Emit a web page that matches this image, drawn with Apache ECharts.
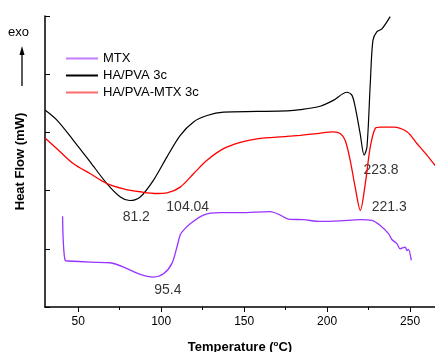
<!DOCTYPE html>
<html><head><meta charset="utf-8">
<script src="https://cdn.jsdelivr.net/npm/echarts@6/dist/echarts.min.js"></script>
<style>html,body{margin:0;padding:0;background:#fff}#c{width:435px;height:352px}</style>
</head><body><div id="c"></div>
<script>
const FONT = '"Liberation Sans", Arial, sans-serif';
const seriesNames = ['MTX', 'HA/PVA 3c', 'HA/PVA-MTX 3c'];
const xTickValues = [50, 100, 150, 200, 250];
const xMinorTickValues = [75, 125, 175, 225];

const mtxT = [40.6, 41.0, 42.2, 44.2, 57.3, 69.3, 79.4, 87.4, 95.4, 101.4, 106.5, 109.5, 111.5, 113.5, 117.5, 125.5, 135.6, 147.6, 165.7, 171.7, 176.7, 185.8, 195.8, 207.8, 220.0, 227.0, 232.0, 237.0, 239.0, 242.0, 244.0, 247.0, 248.1, 249.0, 250.7];
const mtxV = [1.56, 1.14, 0.80, 0.79, 0.77, 0.76, 0.66, 0.56, 0.515, 0.57, 0.75, 1.03, 1.24, 1.32, 1.43, 1.58, 1.62, 1.62, 1.64, 1.58, 1.51, 1.50, 1.47, 1.48, 1.50, 1.49, 1.40, 1.26, 1.16, 1.09, 1.00, 1.03, 0.97, 0.99, 0.80];

const hapvaT = [30.2, 37.2, 47.2, 57.3, 67.3, 75.4, 81.0, 87.4, 95.4, 103.5, 111.5, 119.5, 127.6, 137.6, 157.7, 175.8, 183.8, 195.8, 203.7, 211.9, 214.9, 216.9, 219.9, 222.3, 224.0, 226.0, 227.6, 230.0, 233.0, 238.0];
const hapvaV = [3.38, 3.21, 2.86, 2.49, 2.12, 1.89, 1.83, 1.89, 2.18, 2.58, 2.95, 3.18, 3.29, 3.35, 3.36, 3.37, 3.39, 3.45, 3.55, 3.69, 3.64, 3.44, 2.98, 2.61, 2.75, 3.84, 4.58, 4.73, 4.78, 4.99];

const hapvaMtxT = [30.2, 37.2, 47.2, 57.3, 67.3, 77.3, 87.4, 97.4, 103.5, 111.5, 119.5, 127.6, 137.6, 147.7, 157.7, 175.8, 183.8, 193.9, 203.9, 207.9, 210.9, 213.9, 216.9, 220.0, 223.0, 226.0, 229.0, 232.0, 240.0, 248.1, 254.1, 260.1, 265.1];
const hapvaMtxV = [2.90, 2.72, 2.46, 2.29, 2.12, 2.03, 1.98, 1.95, 1.96, 2.06, 2.29, 2.52, 2.72, 2.83, 2.89, 2.93, 2.95, 2.98, 3.01, 2.98, 2.86, 2.52, 2.06, 1.66, 2.12, 2.75, 3.07, 3.09, 3.09, 3.01, 2.81, 2.61, 2.43];

const annotTexts = ['81.2', '104.04', '95.4', '223.8', '221.3'];
const annotT = [85.0, 116.0, 104.0, 232.5, 237.4];
const annotV = [1.55, 1.72, 0.287, 2.35, 1.71];

const zip = (a, b) => a.map((t, i) => [t, b[i]]);
const lineColors = ['#9933ff', '#000000', '#ff0000'];
const legendColors = ['#c27dff', '#000000', '#ff6a6a'];

const chart = echarts.init(document.getElementById('c'), null, {renderer: 'canvas'});
chart.setOption({
  animation: false,
  backgroundColor: '#fff',
  textStyle: {fontFamily: FONT},
  grid: {left: 45, top: 16, right: 0, bottom: 45, containLabel: false, outerBoundsMode: 'none'},
  legend: {
    orient: 'vertical', left: 66, top: 51, padding: 0, itemWidth: 32, itemHeight: 2, itemGap: 2,
    icon: 'rect',
    textStyle: {fontSize: 13, color: '#000', fontFamily: FONT, lineHeight: 15},
    data: seriesNames.map((n, i) => ({name: n, itemStyle: {color: legendColors[i]}}))
  },
  xAxis: [{
    type: 'value', min: 30, max: 265, position: 'bottom',
    name: 'Temperature ({s|o}C)', nameLocation: 'middle', nameGap: 33,
    nameTextStyle: {fontSize: 13, fontWeight: 'bold', color: '#000', fontFamily: FONT,
      rich: {s: {fontSize: 8, fontWeight: 'bold', color: '#000', verticalAlign: 'top', padding: [0, 0, 6, 0], fontFamily: FONT}}},
    axisLine: {show: true, onZero: false, lineStyle: {color: '#000', width: 1.5}},
    axisTick: {show: true, inside: false, length: 5, customValues: xTickValues, lineStyle: {color: '#000', width: 1}},
    axisLabel: {customValues: xTickValues, fontSize: 12, color: '#000', margin: 9, fontFamily: FONT},
    splitLine: {show: false}
  }, {
    type: 'value', min: 30, max: 265, position: 'bottom',
    axisLine: {show: false},
    axisTick: {show: true, inside: false, length: 3, customValues: xMinorTickValues, lineStyle: {color: '#000', width: 1}},
    axisLabel: {show: false},
    splitLine: {show: false}
  }],
  yAxis: {
    type: 'value', min: 0, max: 5, interval: 1,
    name: 'Heat Flow (mW)', nameLocation: 'middle', nameGap: 18,
    nameTextStyle: {fontSize: 13, fontWeight: 'bold', color: '#000', fontFamily: FONT},
    axisLine: {show: true, onZero: false, lineStyle: {color: '#000', width: 1.5}},
    axisTick: {show: true, inside: true, length: 5, lineStyle: {color: '#000', width: 1}},
    axisLabel: {show: false},
    splitLine: {show: false}
  },
  series: [
    {name: seriesNames[0], type: 'line', data: zip(mtxT, mtxV), showSymbol: false, smooth: 0.3,
      color: lineColors[0], lineStyle: {color: lineColors[0], width: 1.3}},
    {name: seriesNames[1], type: 'line', data: zip(hapvaT, hapvaV), showSymbol: false, smooth: 0.3,
      color: lineColors[1], lineStyle: {color: lineColors[1], width: 1.2}},
    {name: seriesNames[2], type: 'line', data: zip(hapvaMtxT, hapvaMtxV), showSymbol: false, smooth: 0.3,
      color: lineColors[2], lineStyle: {color: lineColors[2], width: 1.3}},
    {name: 'annotations', type: 'scatter', symbolSize: 0, silent: true, itemStyle: {color: '#000'},
      data: annotT.map((t, i) => [t, annotV[i], annotTexts[i]]),
      label: {show: true, position: 'inside', formatter: p => p.data[2], fontSize: 14,
        color: '#000', textBorderWidth: 0, fontFamily: FONT}}
  ],
  graphic: [
    {type: 'text', left: 8, top: 26, style: {text: 'exo', fontSize: 13, fill: '#000', fontFamily: FONT}},
    {type: 'line', shape: {x1: 22, y1: 86, x2: 22, y2: 53}, style: {stroke: '#000', lineWidth: 1.3}},
    {type: 'polygon', shape: {points: [[22, 46], [19.5, 55], [24.5, 55]]}, style: {fill: '#000'}}
  ]
});
</script></body></html>
